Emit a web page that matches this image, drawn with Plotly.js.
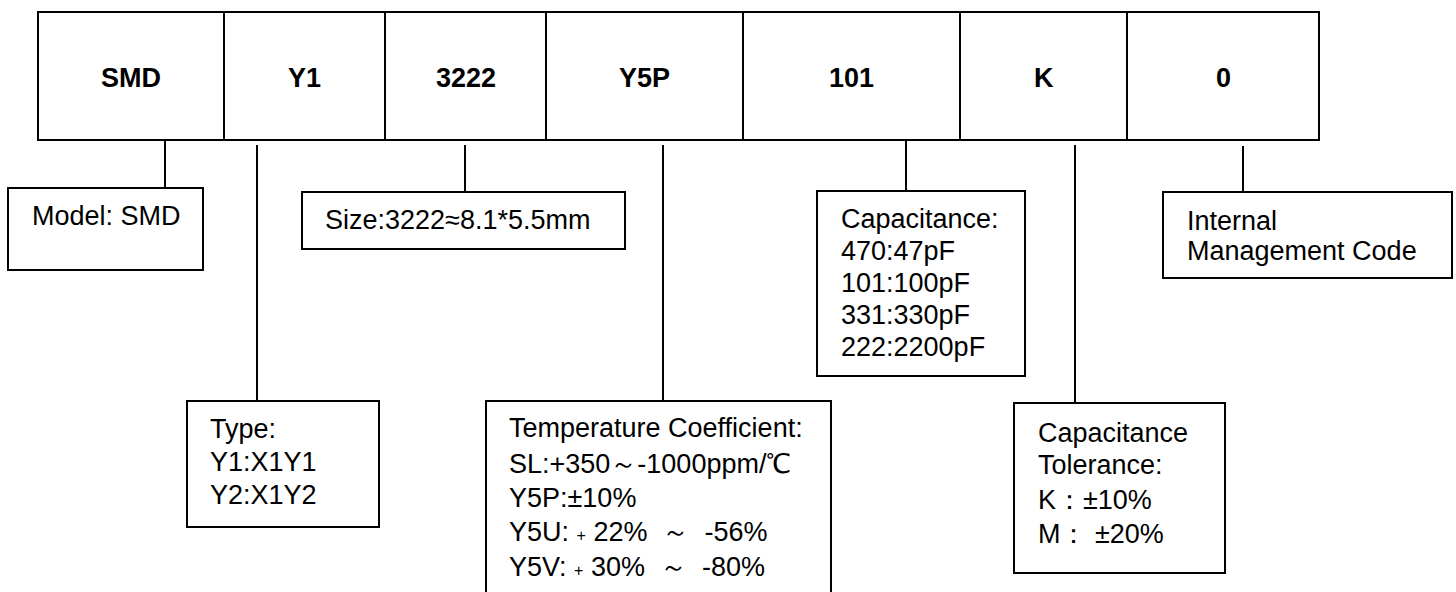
<!DOCTYPE html>
<html>
<head>
<meta charset="utf-8">
<script src="https://cdn.plot.ly/plotly-3.0.1.min.js"></script>
<style>html,body{margin:0;padding:0;background:#fff;}#chart{width:1456px;height:592px;}</style>
</head>
<body>
<div id="chart"></div>
<script>
// ---- data: code segments and their explanations ----
const codes = ['SMD', 'Y1', '3222', 'Y5P', '101', 'K', '0'];
const modelLines = ['Model: SMD'];
const typeLines = ['Type:', 'Y1:X1Y1', 'Y2:X1Y2'];
const sizeLines = ['Size:3222≈8.1*5.5mm'];
const tempLines = ['Temperature Coefficient:', 'SL:+350～-1000ppm/℃', 'Y5P:±10%',
  'Y5U: <span style="font-size:16px">+</span> 22%  ～  -56%',
  'Y5V: <span style="font-size:16px">+</span> 30%  ～  -80%'];
const capLines = ['Capacitance:', '470:47pF', '101:100pF', '331:330pF', '222:2200pF'];
const tolLines = ['Capacitance', 'Tolerance:', 'K：±10%', 'M： ±20%'];
const internalLines = ['Internal', 'Management Code'];

// ---- geometry (pixels, y downward) ----
const cellEdges = [38, 224, 385, 546, 743, 960, 1127, 1319];
const rowTop = 12, rowBottom = 140;
const FONT = 'Liberation Sans, Arial, Helvetica, sans-serif';
const boxes = [
  {lines: modelLines,    rect: [8, 188, 203, 270],     tx: 30,   ty: [216],                    conn: [165, 140]},
  {lines: typeLines,     rect: [187, 401, 379, 527],   tx: 208,  ty: [429, 462, 495],          conn: [257, 145]},
  {lines: sizeLines,     rect: [302, 192, 625, 249],   tx: 323,  ty: [220],                    conn: [465, 145]},
  {lines: tempLines,     rect: [486, 401, 831, 600],   tx: 507,  ty: [428, 464, 498, 532, 567], conn: [663, 145]},
  {lines: capLines,      rect: [817, 191, 1025, 376],  tx: 839,  ty: [219, 251, 283, 315, 347], conn: [906, 140]},
  {lines: tolLines,      rect: [1014, 403, 1225, 573], tx: 1036, ty: [433, 465, 500, 534],     conn: [1075, 145]},
  {lines: internalLines, rect: [1163, 192, 1452, 278], tx: 1185, ty: [221, 251],               conn: [1243, 146]}
];

const shapes = [];
const annotations = [];
const line = {color: '#000', width: 2};

// code row
shapes.push({type: 'rect', x0: cellEdges[0], x1: cellEdges[cellEdges.length - 1], y0: rowTop, y1: rowBottom, line: line});
for (let i = 1; i < cellEdges.length - 1; i++) {
  shapes.push({type: 'line', x0: cellEdges[i], x1: cellEdges[i], y0: rowTop, y1: rowBottom, line: line});
}
codes.forEach((c, i) => {
  annotations.push({x: (cellEdges[i] + cellEdges[i + 1]) / 2, y: 78, text: '<b>' + c + '</b>',
    showarrow: false, xanchor: 'center', yanchor: 'middle', font: {family: FONT, size: 27, color: '#000'}});
});

// explanation boxes
boxes.forEach(b => {
  const [x0, y0, x1, y1] = b.rect;
  shapes.push({type: 'rect', x0: x0, x1: x1, y0: y0, y1: y1, line: line});
  shapes.push({type: 'line', x0: b.conn[0], x1: b.conn[0], y0: b.conn[1], y1: y0, line: line});
  b.lines.forEach((t, k) => {
    annotations.push({x: b.tx, y: b.ty[k], text: t, showarrow: false, xanchor: 'left', yanchor: 'middle',
      font: {family: FONT, size: 27, color: '#000'}});
  });
});

const layout = {
  width: 1456, height: 592,
  margin: {l: 0, r: 0, t: 0, b: 0},
  paper_bgcolor: '#fff', plot_bgcolor: '#fff',
  xaxis: {range: [0, 1456], visible: false, fixedrange: true},
  yaxis: {range: [592, 0], visible: false, fixedrange: true},
  shapes: shapes,
  annotations: annotations,
  showlegend: false
};
Plotly.newPlot('chart', [], layout, {staticPlot: true, displayModeBar: false});
</script>
</body>
</html>
